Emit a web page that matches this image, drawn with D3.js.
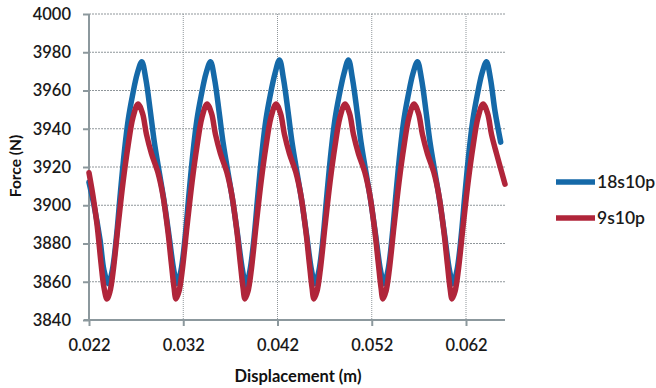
<!DOCTYPE html>
<html><head><meta charset="utf-8">
<script src="https://cdn.jsdelivr.net/npm/d3@7"></script>
<style>
html,body{margin:0;padding:0;background:#fff;}
svg{display:block;font-family:Lato,"Open Sans",sans-serif;}
</style></head>
<body><svg id="c" width="656" height="388"></svg>
<script>
const xTicks = [0.022, 0.032, 0.042, 0.052, 0.062];
const xTickLabels = ["0.022", "0.032", "0.042", "0.052", "0.062"];
const yTicks = [3840, 3860, 3880, 3900, 3920, 3940, 3960, 3980, 4000];
const seriesNames = ["18s10p", "9s10p"];
const seriesColors = ["#1569a8", "#b0253a"];

const blueX = [0.02200,0.02253,0.02317,0.02359,
0.02405,0.02447,0.02490,0.02532,0.02575,0.02617,0.02660,0.02713,0.02760,0.02803,0.02851,0.02893,0.02936,0.02994,0.03052,0.03100,
0.03134,0.03176,0.03219,0.03261,0.03304,0.03346,0.03389,0.03442,0.03489,0.03532,0.03580,0.03622,0.03665,0.03723,0.03781,0.03829,
0.03866,0.03908,0.03951,0.03993,0.04036,0.04078,0.04121,0.04174,0.04221,0.04264,0.04312,0.04354,0.04397,0.04455,0.04513,0.04561,
0.04598,0.04640,0.04683,0.04725,0.04768,0.04810,0.04853,0.04906,0.04953,0.04996,0.05044,0.05086,0.05129,0.05187,0.05245,0.05293,
0.05330,0.05372,0.05415,0.05457,0.05500,0.05542,0.05585,0.05638,0.05685,0.05728,0.05776,0.05818,0.05861,0.05919,0.05977,0.06025,
0.06062,0.06104,0.06147,0.06189,0.06232,0.06274,0.06317,0.06370,0.06417,0.06460,0.06508,0.06568];
const blueF = [3912,3900,3882,3866,
3859,3866,3883,3906,3928,3945,3957,3969,3975,3966,3949,3933,3920,3903,3883,3866,
3859,3866,3883,3906,3928,3945,3957,3969,3975,3966,3949,3933,3920,3903,3883,3866,
3858,3866,3883,3906,3928,3945,3957,3969,3976,3966,3949,3933,3920,3903,3883,3866,
3859,3866,3883,3906,3928,3945,3957,3969,3976,3966,3949,3933,3920,3903,3883,3866,
3859,3866,3883,3906,3928,3945,3957,3969,3975,3966,3949,3933,3920,3903,3883,3866,
3859,3866,3883,3906,3928,3945,3957,3969,3975,3966,3949,3933];

const redX = [0.02200,0.02242,0.02285,0.02327,0.02359,
0.02391,0.02423,0.02455,0.02508,0.02561,0.02614,0.02667,0.02720,0.02768,0.02810,0.02863,0.02932,0.02985,0.03038,0.03075,0.03102,
0.03123,0.03155,0.03187,0.03240,0.03293,0.03346,0.03399,0.03452,0.03500,0.03542,0.03595,0.03664,0.03717,0.03770,0.03807,0.03834,
0.03855,0.03887,0.03919,0.03972,0.04025,0.04078,0.04131,0.04184,0.04232,0.04274,0.04327,0.04396,0.04449,0.04502,0.04539,0.04566,
0.04587,0.04619,0.04651,0.04704,0.04757,0.04810,0.04863,0.04916,0.04964,0.05006,0.05059,0.05128,0.05181,0.05234,0.05271,0.05298,
0.05319,0.05351,0.05383,0.05436,0.05489,0.05542,0.05595,0.05648,0.05696,0.05738,0.05791,0.05860,0.05913,0.05966,0.06003,0.06030,
0.06052,0.06084,0.06116,0.06169,0.06222,0.06275,0.06328,0.06381,0.06429,0.06471,0.06524,0.06614];
const redF = [3917,3905,3890,3870,3857,
3851,3855,3865,3889,3912,3931,3946,3953,3948,3937,3927,3917,3905,3886,3869,3857,
3851,3855,3865,3889,3912,3931,3946,3953,3948,3937,3927,3917,3905,3886,3869,3857,
3851,3855,3865,3889,3912,3931,3946,3953,3948,3937,3927,3917,3905,3886,3869,3857,
3851,3855,3865,3889,3912,3931,3946,3953,3948,3937,3927,3917,3905,3886,3869,3857,
3851,3855,3865,3889,3912,3931,3946,3953,3948,3937,3927,3917,3905,3886,3869,3857,
3851,3855,3865,3889,3912,3931,3946,3953,3948,3937,3927,3911];

const svg = d3.select("#c");
const L = 89, R = 505, T = 14, B = 320;
const x = d3.scaleLinear().domain([0.022, 0.022 + (R - L) / 9425]).range([L, R]);
const y = d3.scaleLinear().domain([3840, 4000]).range([B, T]);

// horizontal gridlines
svg.append("g").selectAll("line").data(yTicks.filter(d => d > 3840)).join("line")
  .attr("x1", L).attr("x2", R).attr("y1", d => y(d)).attr("y2", d => y(d))
  .attr("stroke", "#8f969a").attr("stroke-width", 1).attr("stroke-dasharray", "2,1");
// vertical gridlines
svg.append("g").selectAll("line").data(xTicks.slice(1)).join("line")
  .attr("x1", d => x(d)).attr("x2", d => x(d)).attr("y1", T).attr("y2", B)
  .attr("stroke", "#8f969a").attr("stroke-width", 1).attr("stroke-dasharray", "1,1");

// axes
const yAxis = d3.axisLeft(y).tickValues(yTicks).tickSize(6).tickPadding(12).tickFormat(d3.format("d"));
const gy = svg.append("g").attr("transform", `translate(${L},0)`).call(yAxis);
const xAxis = d3.axisBottom(x).tickValues(xTicks).tickSize(6).tickPadding(13).tickFormat((d, i) => xTickLabels[i]);
const gx = svg.append("g").attr("transform", `translate(0,${B})`).call(xAxis);
[gx, gy].forEach(g => {
  g.select(".domain").attr("stroke", "#8c989d").attr("stroke-width", 2);
  g.selectAll(".tick line").attr("stroke", "#8c989d").attr("stroke-width", 2);
  g.selectAll("text").attr("font-family", "Lato, sans-serif").attr("font-size", 16.5)
    .attr("font-weight", 600).attr("fill", "#1a1a1a");
});
gx.select(".domain").attr("d", `M${L - 5},0H${R}`);
gy.select(".domain").attr("d", `M0,${B}V${T}`);

// lines
const line = d3.line().x(d => x(d[0])).y(d => y(d[1])).curve(d3.curveCatmullRom.alpha(0.5));
const series = [d3.zip(blueX, blueF), d3.zip(redX, redF)];
series.forEach((s, i) => {
  svg.append("path").datum(s).attr("d", line).attr("fill", "none")
    .attr("stroke", seriesColors[i]).attr("stroke-width", 5.5)
    .attr("stroke-linejoin", "round").attr("stroke-linecap", "round");
});

// axis titles
svg.append("text").attr("x", 298).attr("y", 382).attr("text-anchor", "middle")
  .attr("font-size", 16.5).attr("font-weight", 700).attr("fill", "#111").text("Displacement (m)");
svg.append("text").attr("transform", "translate(21,166) rotate(-90)").attr("text-anchor", "middle")
  .attr("font-size", 15.5).attr("font-weight", 700).attr("fill", "#111").text("Force (N)");

// legend
const lg = svg.append("g");
[182, 218].forEach((ly, i) => {
  lg.append("line").attr("x1", 556).attr("x2", 595).attr("y1", ly).attr("y2", ly)
    .attr("stroke", seriesColors[i]).attr("stroke-width", 5.5);
  lg.append("text").attr("x", 597).attr("y", ly + 6).attr("font-size", 17.5)
    .attr("font-weight", 600).attr("fill", "#1a1a1a").text(seriesNames[i]);
});
</script></body></html>
